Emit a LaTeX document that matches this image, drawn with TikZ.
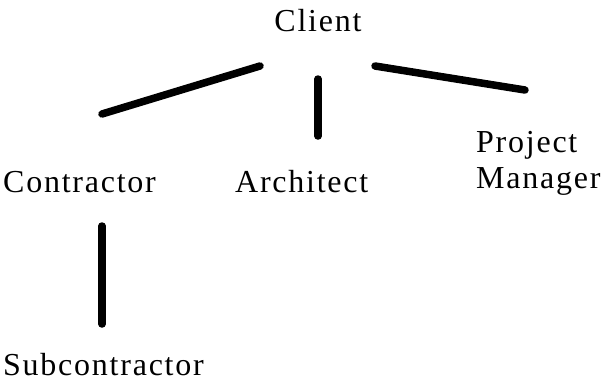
\documentclass[tikz,border=0pt]{standalone}
\usepackage{fontspec}
\setmainfont[LetterSpace=5.5]{Liberation Serif}

\begin{document}
\begin{tikzpicture}[x=1pt,y=-1pt,
    role/.style={inner sep=0pt, font=\fontsize{32}{36}\selectfont},
    link/.style={line width=7.5pt, line cap=round}]
      \useasboundingbox (0,0) rectangle (603,381);
      \node[role, anchor=base] (client) at (318,31) {Client};
      \node[role, anchor=base west] (contractor) at (3,192) {Contractor};
      \node[role, anchor=base west] (architect) at (235,192) {Architect};
      \node[role, anchor=base west, align=left] (pm) at (476,188) {Project\\Manager};
      \node[role, anchor=base west] (sub) at (3,375) {Subcontractor};
      % link ends
      \coordinate (a1) at (260,66);  \coordinate (a2) at (102,114);
      \coordinate (b1) at (318,79);  \coordinate (b2) at (318,136);
      \coordinate (c1) at (375,66);  \coordinate (c2) at (525,90);
      \coordinate (d1) at (102,226); \coordinate (d2) at (102,324);
      \draw[link] (a1) -- (a2);
      \draw[link] (b1) -- (b2);
      \draw[link] (c1) -- (c2);
      \draw[link] (d1) -- (d2);
    \end{tikzpicture}
\end{document}
